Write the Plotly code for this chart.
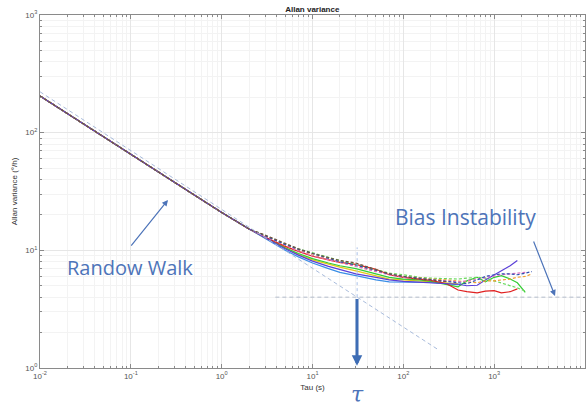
import plotly.graph_objects as go

tau = [0.01, 0.02, 0.05, 0.1, 0.2, 0.5, 1, 2, 3, 5, 7, 10, 15, 20, 30, 50, 70, 100,
       150, 200, 300, 400, 500, 650, 800, 1000, 1200, 1500, 1800, 2200, 2600]

early = [205, 145, 92, 65, 46, 29.5, 21, 15.2]
N = None

purple_solid = early + [12.8, 10.3, 9.1, 8.1, 7.3, 6.9, 6.3, 5.9, 5.6, 5.45, 5.35, 5.25, 5.2, 5.15, 5.0, 5.05, 5.6, 6.2, 6.7, 7.4, 8.2, N, N]
red_solid = early + [13.0, 10.8, 9.8, 8.9, 8.3, 7.9, 7.6, 6.9, 6.2, 5.9, 5.7, 5.55, 5.2, 4.6, 4.45, 4.35, 4.5, 4.55, 4.35, 4.45, 4.7, N, N]
green_solid = early + [12.9, 10.5, 9.4, 8.5, 7.8, 7.4, 7.0, 6.3, 5.9, 5.7, 5.6, 5.45, 5.1, 4.9, 5.5, 5.9, 5.4, 5.9, 6.1, 5.7, 5.3, 4.4, N]
lightblue_solid = early + [12.5, 10.0, 8.8, 7.8, 7.0, 6.5, 6.1, 5.6, 5.4, 5.4, 5.4, 5.35, 5.2, 5.1, N, N, N, N, N, N, N, N, N]
yellow_solid = early + [12.8, 10.4, 9.2, 8.3, 7.6, 7.2, 6.7, 6.1, 5.7, 5.6, 5.5, 5.4, 5.3, 5.2, N, N, N, N, N, N, N, N, N]
blue_dashed = early + [13.3, 11.2, 10.2, 9.4, 8.6, 8.0, 7.5, 6.8, 6.3, 6.0, 5.8, 5.6, 5.4, 5.3, 5.2, 5.6, 6.0, 6.2, 6.3, 6.3, 6.2, 6.4, 6.6]
orange_dashed = early + [13.2, 11.0, 10.0, 9.1, 8.4, 7.9, 7.4, 6.7, 6.3, 6.0, 5.8, 5.7, 5.6, 5.5, 5.4, 5.3, 5.5, 5.5, 5.6, 5.7, 5.9, 6.0, 6.3]
green_dashed = early + [13.4, 11.3, 10.3, 9.5, 8.8, 8.2, 7.6, 6.9, 6.4, 6.2, 5.9, 5.8, 5.7, 5.7, 5.8, 5.9, 5.8, 5.5, 5.3, 5.0, 4.8, 4.5, N]
pink_dashed = early + [13.1, 11.0, 9.9, 9.0, 8.3, 7.8, 7.3, 6.6, 6.2, 5.9, 5.7, 5.6, 5.5, 5.4, 5.5, 5.7, 5.9, 6.0, 6.2, 6.3, 6.4, 6.5, N]
brown_dashed = early + [13.5, 11.4, 10.3, 9.4, 8.7, 8.2, 7.8, 6.9, 6.3, 6.0, 5.7, 5.6, 5.4, N, N, N, N, N, N, N, N, N, N]

series = [
    (lightblue_solid, "#3a8ee6", "solid"),
    (yellow_solid, "#e6c619", "solid"),
    (green_solid, "#33cc33", "solid"),
    (red_solid, "#e02020", "solid"),
    (purple_solid, "#5a3fd8", "solid"),
    (green_dashed, "#66d95a", "3px,2px"),
    (orange_dashed, "#f0a030", "3px,2px"),
    (pink_dashed, "#e070c0", "3px,2px"),
    (blue_dashed, "#2f4fb0", "3px,2px"),
    (brown_dashed, "#705040", "3px,2px"),
]

x_tickvals = [0.01, 0.1, 1, 10, 100, 1000, 10000]
x_ticktext = ["10<sup>-2</sup>", "10<sup>-1</sup>", "10<sup>0</sup>", "10<sup>1</sup>",
              "10<sup>2</sup>", "10<sup>3</sup>", "10<sup>4</sup>"]
y_tickvals = [1, 10, 100, 1000]
y_ticktext = ["10<sup>0</sup>", "10<sup>1</sup>", "10<sup>2</sup>", "10<sup>3</sup>"]

# reference lines
diag_tau = [0.01, 240]
diag_val = [4 * (t / 31) ** -0.5 for t in diag_tau]
bias_tau = [3.9, 10000]
bias_val = [4, 4]
vert_tau = [31, 31]
vert_val = [4, 10.6]

fig = go.Figure()
for vals, col, dash in series:
    fig.add_trace(go.Scatter(x=tau, y=vals, mode="lines",
                             line=dict(color=col, width=1.2, dash=dash),
                             connectgaps=False, showlegend=False))

fig.add_trace(go.Scatter(x=diag_tau, y=diag_val, mode="lines",
                         line=dict(color="#a9bcdc", width=1, dash="4px,3px"), showlegend=False))
fig.add_trace(go.Scatter(x=bias_tau, y=bias_val, mode="lines",
                         line=dict(color="#b4bccb", width=1, dash="4px,3px"), showlegend=False))
fig.add_trace(go.Scatter(x=vert_tau, y=vert_val, mode="lines",
                         line=dict(color="#a9c0e8", width=1, dash="dot"), showlegend=False))

axis_common = dict(
    type="log",
    showgrid=True, gridcolor="#e6e6e6", gridwidth=1,
    showline=True, linecolor="#8a8a8a", linewidth=1, mirror="ticks",
    ticks="inside", ticklen=4, tickcolor="#8a8a8a",
    tickfont=dict(size=8, color="#555555", family="Liberation Sans"),
    zeroline=False,
    minor=dict(dtick="D1", showgrid=True, gridcolor="#f3f3f3", ticks="inside",
               ticklen=2, tickcolor="#8a8a8a"),
)

fig.update_xaxes(range=[-2, 4], tickvals=x_tickvals, ticktext=x_ticktext, **axis_common,
                 title=dict(text="Tau (s)", font=dict(size=8, color="#333333", family="Liberation Sans"),
                            standoff=4))
fig.update_yaxes(range=[0, 3], tickvals=y_tickvals, ticktext=y_ticktext, **axis_common,
                 title=dict(text="Allan variance (°/h)", font=dict(size=8, color="#333333", family="Liberation Sans"),
                            standoff=6))

ann_col = "#4d74b9"
fig.update_layout(
    width=587, height=409,
    margin=dict(l=40, r=2, t=15, b=41),
    paper_bgcolor="white", plot_bgcolor="white",
    title=dict(text="<b>Allan variance</b>", x=0.532, xanchor="center", y=0.985, yanchor="top",
               font=dict(size=8, color="#222222", family="Liberation Sans")),
    annotations=[
        dict(text="Randow Walk", x=-1.009, y=0.85, xref="x", yref="y", showarrow=False,
             font=dict(size=20, color=ann_col, family="Open Sans")),
        dict(text="Bias Instability", x=2.68, y=1.283, xref="x", yref="y", showarrow=False,
             font=dict(size=21, color=ann_col, family="Open Sans")),
        dict(text="<i>τ</i>", x=1.49, y=-0.076, xref="x", yref="paper", yanchor="middle", showarrow=False,
             font=dict(size=22, color=ann_col, family="DejaVu Serif")),
        dict(text="", x=-0.591, y=1.428, ax=-1.009, ay=1.028, xref="x", yref="y",
             axref="x", ayref="y", showarrow=True, arrowhead=2, arrowsize=1, arrowwidth=1.2,
             arrowcolor=ann_col),
        dict(text="", x=3.67, y=0.612, ax=3.428, ay=1.088, xref="x", yref="y",
             axref="x", ayref="y", showarrow=True, arrowhead=2, arrowsize=1, arrowwidth=1.2,
             arrowcolor=ann_col),
        dict(text="", x=1.49, y=0.02, ax=1.49, ay=0.6, xref="x", yref="y",
             axref="x", ayref="y", showarrow=True, arrowhead=2, arrowsize=0.7, arrowwidth=3,
             arrowcolor="#3e6db5"),
    ],
)

fig.write_html("out.html")
